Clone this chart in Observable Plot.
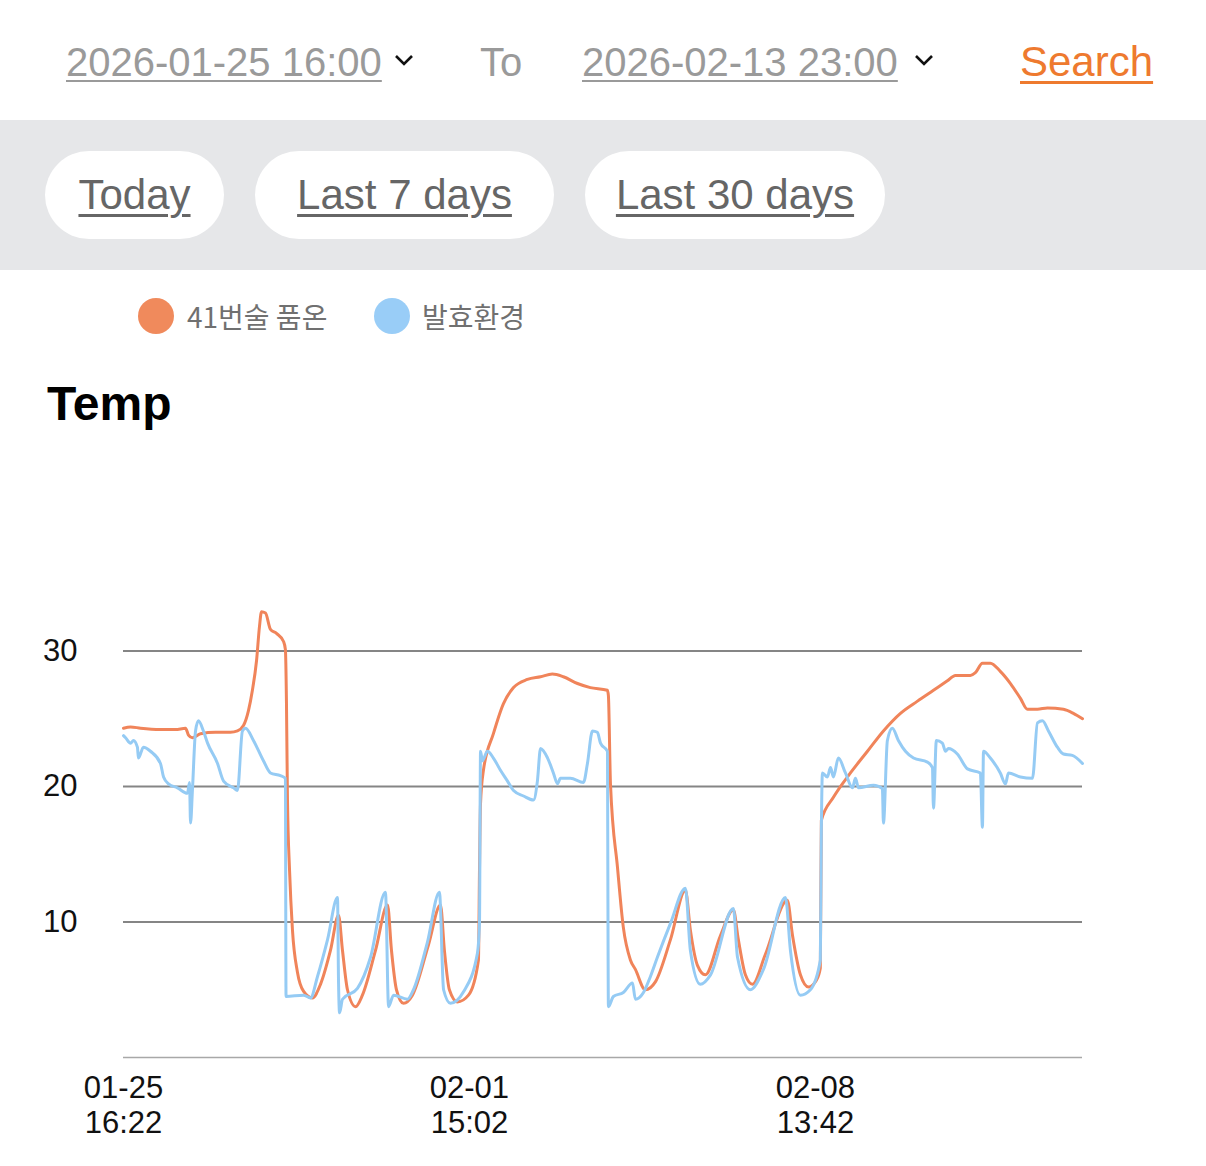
<!DOCTYPE html>
<html>
<head>
<meta charset="utf-8">
<script src="https://cdn.jsdelivr.net/npm/d3@7"></script>
<script src="https://cdn.jsdelivr.net/npm/@observablehq/plot@0.6"></script>
<style>
  html, body { margin: 0; padding: 0; background: #fff; }
  body { width: 1206px; height: 1166px; position: relative; overflow: hidden;
         font-family: "Liberation Sans", Arial, Helvetica, sans-serif; }
  .abs { position: absolute; white-space: nowrap; }
  .date { font-size: 40px; line-height: 44px; color: #9a9a9a; text-decoration: underline;
          text-decoration-thickness: 2px; text-underline-offset: 4px; }
  .to { font-size: 40px; line-height: 44px; color: #9a9a9a; }
  .search { font-size: 42px; line-height: 44px; color: #ee7a2f; text-decoration: underline;
            text-decoration-thickness: 3px; text-underline-offset: 5px; }
  .band { left: 0; top: 120px; width: 1206px; height: 150px; background: #e6e7e9; }
  .pill { top: 151px; height: 88px; border-radius: 44px; background: #fff;
          display: flex; align-items: center; justify-content: center;
          font-size: 42px; color: #666; }
  .pill span { text-decoration: underline; text-decoration-thickness: 3px; text-underline-offset: 5px; }
  .dot { width: 36px; height: 36px; border-radius: 50%; top: 298px; }
  .leg { top: 296px; font-size: 28px; line-height: 40px; color: #707070;
         font-family: "Noto Sans CJK KR", "Noto Sans", sans-serif; }
  .title { left: 47px; top: 380px; font-size: 48px; line-height: 48px; font-weight: bold; color: #000; }
  #chart { position: absolute; left: 0; top: 450px; }
</style>
</head>
<body>
<div class="abs date" style="left:66px; top:40px;">2026-01-25 16:00</div>
<svg class="abs" style="left:394px; top:53px;" width="22" height="14"><path d="M2,3 L10,11 L18,3" fill="none" stroke="#111" stroke-width="2.6"/></svg>
<div class="abs to" style="left:480px; top:40px;">To</div>
<div class="abs date" style="left:582px; top:40px;">2026-02-13 23:00</div>
<svg class="abs" style="left:914px; top:53px;" width="22" height="14"><path d="M2,3 L10,11 L18,3" fill="none" stroke="#111" stroke-width="2.6"/></svg>
<div class="abs search" style="left:1020px; top:40px;">Search</div>

<div class="abs band"></div>
<div class="abs pill" style="left:45px; width:179px;"><span>Today</span></div>
<div class="abs pill" style="left:255px; width:299px;"><span>Last 7 days</span></div>
<div class="abs pill" style="left:585px; width:300px;"><span>Last 30 days</span></div>

<div class="abs dot" style="left:138px; background:#f08a5c;"></div>
<div class="abs leg" style="left:187px;">41번술 품온</div>
<div class="abs dot" style="left:374px; background:#99cdf7;"></div>
<div class="abs leg" style="left:422px;">발효환경</div>

<div class="abs title">Temp</div>
<div id="chart"></div>

<script>
// ---- data ----
const startTime = "2026-01-25T16:22";
const seriesNames = ["41번술 품온", "발효환경"];
const seriesColors = ["#f0845a", "#95cbf4"];

// 41번술 품온: hours since start, temperature
const orangeHours = [0, 3.4, 8.2, 17.8, 25.0, 29.9, 31.3, 33.2, 37.1, 44.3, 51.5, 54.9, 57.8, 60.2, 62.1, 64.1, 65.5, 66.5, 68.4, 70.8,
  73.7, 77.1, 78.0, 78.5, 79.0, 80.0, 81.4, 83.8, 86.7, 91.0, 94.9, 99.7, 103.6, 105.5, 107.9, 111.8, 115.1, 121.4, 127.2, 129.1,
  131.5, 134.9, 139.2, 146.9, 152.7, 154.6, 157.0, 160.9, 166.2, 171.0, 171.5, 172.0, 173.4, 178.2, 183.0, 187.9, 194.6, 200.9, 206.6, 211.9,
  218.7, 224.9, 233.1, 233.6, 234.6, 238.0, 240.8, 244.2, 246.6, 251.4, 256.3, 263.5, 270.7, 273.1, 276.5, 280.3, 287.6, 293.8, 296.2, 299.6,
  303.0, 309.2, 319.8, 322.3, 326.1, 330.0, 333.8, 335.7, 336.2, 342.0, 350.2, 358.4, 366.1, 374.3, 382.5, 390.2, 396.9, 400.8, 408.0, 410.4,
  413.8, 417.6, 422.4, 427.3, 432.1, 435.5, 440.3, 445.1, 452.8, 457.6, 462.0];
const orangeValues = [24.3, 24.4, 24.3, 24.2, 24.2, 24.3, 23.8, 23.6, 23.9, 24.0, 24.0, 24.1, 24.5, 25.6, 27.1, 29.3, 31.8, 32.9, 32.8, 31.6,
  31.3, 30.7, 30.1, 26.3, 19.0, 13.8, 9.4, 6.3, 4.9, 4.4, 5.4, 7.9, 10.5, 7.9, 5.0, 3.75, 4.6, 7.9, 11.25, 7.9,
  5.0, 4.0, 4.6, 8.3, 11.25, 7.9, 5.0, 4.1, 4.6, 7.2, 13.8, 18.75, 21.2, 23.9, 26.1, 27.3, 27.9, 28.1, 28.3, 28.1,
  27.6, 27.3, 27.1, 26.7, 20.2, 14.0, 9.6, 7.2, 6.5, 5.0, 5.6, 8.7, 12.35, 9.4, 6.8, 6.1, 9.0, 10.9, 8.7, 6.1,
  5.4, 7.6, 11.6, 9.0, 6.1, 5.2, 5.7, 6.6, 17.5, 19.2, 21.0, 22.6, 24.1, 25.4, 26.3, 27.1, 27.8, 28.2, 28.2, 28.4,
  29.1, 29.1, 28.5, 27.6, 26.5, 25.7, 25.7, 25.8, 25.7, 25.4, 25.0];

// 발효환경: hours since start, temperature
const blueHours = [0, 1.0, 3.4, 4.8, 6.7, 7.2, 9.6, 13.0, 17.8, 19.3, 21.7, 26.0, 30.8, 31.8, 32.3, 33.2, 34.7, 36.1, 38.5, 40.5,
  45.3, 48.2, 53.0, 54.9, 57.3, 58.8, 62.6, 67.4, 70.8, 75.6, 78.0, 78.3, 86.7, 90.1, 93.5, 98.3, 103.1, 103.6, 104.1, 105.5,
  112.7, 119.0, 126.2, 127.7, 130.1, 136.8, 139.7, 146.4, 152.2, 154.2, 157.5, 163.8, 170.5, 171.5, 172.0, 172.9, 175.3, 178.2, 181.6, 185.0,
  187.9, 192.7, 197.5, 199.4, 200.9, 204.3, 207.1, 209.1, 210.5, 215.3, 221.6, 223.5, 225.9, 228.3, 229.8, 233.1, 233.6, 236.0, 240.8, 245.2,
  246.6, 250.5, 253.9, 257.2, 263.5, 270.7, 273.1, 277.9, 282.8, 293.8, 295.8, 302.0, 308.3, 318.9, 321.3, 326.1, 330.9, 335.7, 336.2, 336.7,
  339.1, 340.6, 342.0, 344.4, 347.8, 351.2, 352.6, 354.1, 361.3, 365.6, 366.1, 368.0, 370.4, 373.3, 376.7, 380.6, 387.3, 389.7, 390.2, 391.6,
  394.5, 396.0, 397.4, 401.7, 406.6, 412.8, 413.8, 414.3, 417.6, 422.4, 424.9, 426.3, 432.1, 437.9, 440.3, 442.7, 445.6, 449.9, 452.8, 457.1, 462.0];
const blueValues = [23.75, 23.6, 23.2, 23.4, 22.9, 22.1, 22.9, 22.6, 21.7, 20.7, 20.2, 19.9, 19.5, 20.3, 17.3, 19.7, 24.1, 24.85, 24.1, 23.2,
  21.7, 20.4, 19.9, 19.7, 24.1, 24.3, 23.4, 21.9, 21.0, 20.8, 20.6, 4.5, 4.6, 4.4, 6.0, 8.7, 11.8, 5.5, 3.3, 4.3,
  5.1, 7.4, 12.2, 3.75, 4.6, 4.3, 5.0, 8.5, 12.2, 5.0, 4.0, 4.85, 7.7, 9.9, 22.6, 21.9, 22.6, 22.1, 21.2, 20.4,
  19.7, 19.3, 19.0, 20.4, 22.8, 22.1, 21.0, 20.2, 20.6, 20.6, 20.3, 21.7, 24.1, 24.0, 23.2, 22.6, 3.75, 4.5, 4.8, 5.5,
  4.3, 4.8, 6.0, 7.4, 9.9, 12.5, 7.9, 5.4, 6.1, 11.0, 7.4, 5.0, 6.5, 11.8, 7.9, 4.6, 5.0, 7.2, 16.8, 21.0,
  20.7, 21.4, 20.7, 22.1, 21.0, 19.9, 20.6, 19.9, 20.1, 19.85, 17.3, 23.4, 24.3, 23.4, 22.6, 22.1, 21.8, 21.4, 18.4, 23.4,
  23.2, 22.6, 22.8, 22.4, 21.3, 21.0, 17.0, 22.6, 22.1, 21.0, 20.2, 21.0, 20.7, 20.6, 24.7, 24.85, 24.1, 22.9, 22.4, 22.3, 21.7];

const yTicks = [10, 20, 30];
const xTickLabels = ["2026-01-25T16:22", "2026-02-01T15:02", "2026-02-08T13:42"];

// ---- build ----
const parse = d3.timeParse("%Y-%m-%dT%H:%M");
const t0 = parse(startTime);
const toDate = h => new Date(t0.getTime() + h * 3600e3);
const rows = [];
orangeHours.forEach((h, i) => rows.push({series: seriesNames[0], time: toDate(h), value: orangeValues[i]}));
blueHours.forEach((h, i) => rows.push({series: seriesNames[1], time: toDate(h), value: blueValues[i]}));
const xTicks = xTickLabels.map(parse);
const fmtD = d3.timeFormat("%m-%d"), fmtT = d3.timeFormat("%H:%M");

const chart = Plot.plot({
  width: 1206,
  height: 716,
  marginLeft: 123,
  marginRight: 124,
  marginTop: 65,
  marginBottom: 109,
  style: {fontFamily: "'Liberation Sans', Arial, Helvetica, sans-serif", fontSize: "31px", color: "#111", background: "transparent"},
  x: {type: "time"},
  y: {domain: [0, 40]},
  color: {domain: seriesNames, range: seriesColors},
  marks: [
    Plot.ruleY(yTicks, {stroke: "#858585", strokeWidth: 2}),
    Plot.ruleY([0], {stroke: "#a8a8a8", strokeWidth: 1.5}),
    Plot.axisY({ticks: yTicks, tickSize: 0, tickPadding: 46, fontSize: 31, fill: "#111", label: null}),
    Plot.axisX({ticks: xTicks, tickSize: 0, tickPadding: 16, fontSize: 31, fill: "#111", lineHeight: 1.13, label: null,
      tickFormat: d => fmtD(d) + "\n" + fmtT(d)}),
    Plot.line(rows.filter(r => r.series === seriesNames[0]), {x: "time", y: "value", stroke: "series", strokeWidth: 3, curve: "monotone-x"}),
    Plot.line(rows.filter(r => r.series === seriesNames[1]), {x: "time", y: "value", stroke: "series", strokeWidth: 3, curve: "monotone-x"})
  ]
});
document.getElementById("chart").appendChild(chart);
</script>
</body>
</html>
